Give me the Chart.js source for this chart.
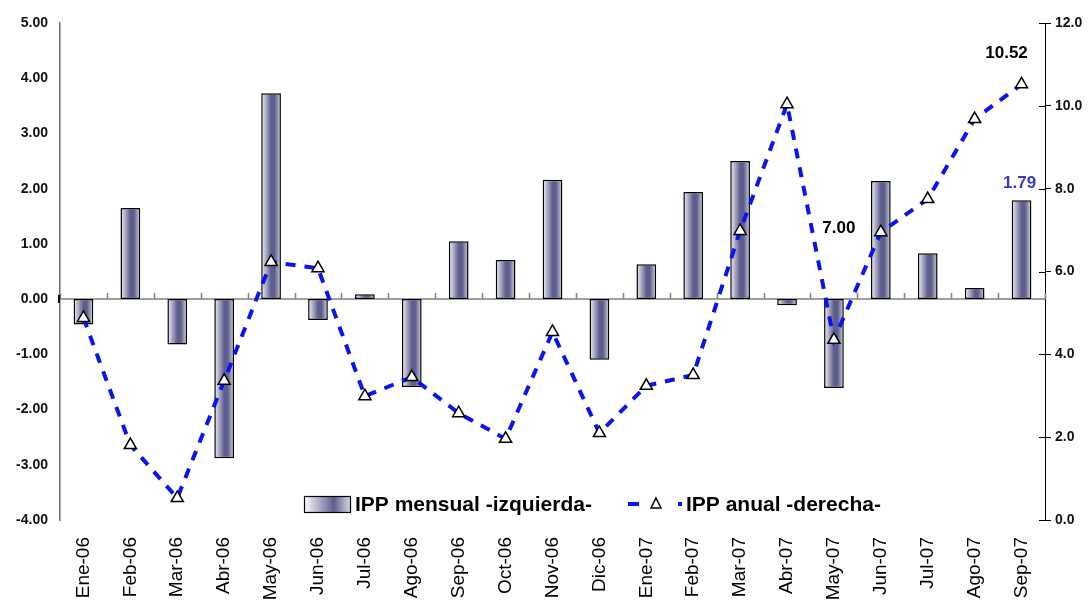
<!DOCTYPE html>
<html>
<head>
<meta charset="utf-8">
<script src="https://cdn.jsdelivr.net/npm/chart.js@4/dist/chart.umd.min.js"></script>
<style>
  html, body { margin: 0; padding: 0; background: #fff; }
  #wrap { width: 1088px; height: 601px; }
</style>
</head>
<body>
<div id="wrap"><canvas id="chart" width="1088" height="601"></canvas></div>
<script>
"use strict";

// ── data ─────────────────────────────────────────────────────────────────────
const months = [
  "Ene-06", "Feb-06", "Mar-06", "Abr-06", "May-06", "Jun-06", "Jul-06",
  "Ago-06", "Sep-06", "Oct-06", "Nov-06", "Dic-06", "Ene-07", "Feb-07",
  "Mar-07", "Abr-07", "May-07", "Jun-07", "Jul-07", "Ago-07", "Sep-07",
];
const ippMensual = [
  -0.46, 1.65, -0.82, -2.88, 3.73, -0.38, 0.09,
  -1.59, 1.05, 0.71, 2.16, -1.10, 0.63, 1.94,
  2.50, -0.11, -1.61, 2.14, 0.83, 0.20, 1.79,
];
const ippAnual = [
  4.88, 1.81, 0.53, 3.36, 6.23, 6.08, 2.99,
  3.45, 2.58, 1.96, 4.54, 2.10, 3.24, 3.50,
  6.98, 10.04, 4.35, 6.95, 7.75, 9.68, 10.52,
];
const leftRange  = { min: -4, max: 5, step: 1 };
const rightRange = { min: 0, max: 12, step: 2 };

const seriesNames = ["IPP mensual -izquierda-", "IPP anual -derecha-"];

// value labels: [series, index, text, color, dx, dy]
const valueLabels = [
  ["anual",   20, "10.52", "#000000", -15, -31],
  ["mensual", 20, "1.79",  "#3a3ac8",  -2, -17],
  ["anual",   17, "7.00",  "#000000", -42,  -4],
];

// ── styling helpers ──────────────────────────────────────────────────────────
const BAR_FRAC = 0.42;
const FONT_SANS = "'Liberation Sans', Arial, sans-serif";
const LINE_BLUE = "#0a14f0";

function barFill(ctx) {
  const chart = ctx.chart;
  const x = chart.scales && chart.scales.x;
  if (!x || ctx.type !== "data") return "#6a6a96";
  const cx = x.getPixelForValue(ctx.dataIndex);
  const w = (x.getPixelForValue(1) - x.getPixelForValue(0)) * BAR_FRAC / 2;
  if (!isFinite(cx) || !isFinite(w) || w <= 0) return "#6a6a96";
  const g = chart.ctx.createLinearGradient(cx - w, 0, cx + w, 0);
  g.addColorStop(0.0,  "#f4f4f8");
  g.addColorStop(0.5,  "#5e5e8e");
  g.addColorStop(0.68, "#5e5e8e");
  g.addColorStop(1.0,  "#d4d4de");
  return g;
}

// ── plugin: zero line, inner ticks, labels, legend ───────────────────────────
const extras = {
  id: "extras",
  beforeDatasetsDraw(chart) {
    const { ctx, chartArea: a, scales } = chart;
    const y0 = scales.y.getPixelForValue(0);
    const x = scales.x;
    const step = x.getPixelForValue(1) - x.getPixelForValue(0);
    ctx.save();
    ctx.strokeStyle = "#808080";
    ctx.lineWidth = 1.5;
    ctx.beginPath();
    ctx.moveTo(a.left, y0);
    ctx.lineTo(a.right, y0);
    for (let i = 0; i <= months.length; i++) {
      const px = Math.round(x.getPixelForValue(i) - step / 2) + 0.5;
      ctx.moveTo(px, y0);
      ctx.lineTo(px, y0 - 6);
    }
    ctx.stroke();
    // left axis zero mark
    ctx.strokeStyle = "#000";
    ctx.lineWidth = 2;
    ctx.beginPath();
    ctx.moveTo(a.left - 1, y0 - 4);
    ctx.lineTo(a.left - 1, y0 + 4);
    ctx.stroke();
    // inner half of right axis ticks
    ctx.lineWidth = 1;
    ctx.beginPath();
    for (let v = rightRange.min; v <= rightRange.max; v += rightRange.step) {
      const py = Math.round(scales.y1.getPixelForValue(v)) + 0.5;
      ctx.moveTo(a.right - 6, py);
      ctx.lineTo(a.right, py);
    }
    ctx.stroke();
    ctx.restore();
  },
  afterDatasetsDraw(chart) {
    const { ctx, chartArea: a, scales } = chart;
    ctx.save();
    ctx.font = "bold 17px " + FONT_SANS;
    ctx.textAlign = "center";
    ctx.textBaseline = "middle";
    valueLabels.forEach(([s, i, text, color, dx, dy]) => {
      const px = scales.x.getPixelForValue(i);
      const py = s === "anual"
        ? scales.y1.getPixelForValue(ippAnual[i])
        : scales.y.getPixelForValue(ippMensual[i]);
      ctx.fillStyle = color;
      ctx.fillText(text, px + dx, py + dy);
    });

    // legend
    const ly = a.bottom - 16;
    const lx = a.left + 244;
    const g = ctx.createLinearGradient(lx, 0, lx + 46, 0);
    g.addColorStop(0, "#ffffff");
    g.addColorStop(0.65, "#5e5e8e");
    g.addColorStop(1, "#d4d4de");
    ctx.fillStyle = g;
    ctx.fillRect(lx, ly - 8, 46, 16);
    ctx.strokeStyle = "#000";
    ctx.lineWidth = 1.2;
    ctx.strokeRect(lx + 0.5, ly - 7.5, 46, 16);

    ctx.font = "bold 21px " + FONT_SANS;
    ctx.textAlign = "left";
    ctx.fillStyle = "#000";
    ctx.fillText(seriesNames[0], lx + 51, ly + 1);

    const l2 = lx + 324;
    ctx.strokeStyle = LINE_BLUE;
    ctx.lineWidth = 4;
    ctx.beginPath();
    ctx.moveTo(l2, ly); ctx.lineTo(l2 + 11, ly);
    ctx.moveTo(l2 + 50, ly); ctx.lineTo(l2 + 54, ly);
    ctx.stroke();
    ctx.fillStyle = "#fff";
    ctx.strokeStyle = "#000";
    ctx.lineWidth = 1.5;
    ctx.beginPath();
    ctx.moveTo(l2 + 28, ly - 6);
    ctx.lineTo(l2 + 33, ly + 4);
    ctx.lineTo(l2 + 23, ly + 4);
    ctx.closePath();
    ctx.fill(); ctx.stroke();
    ctx.fillStyle = "#000";
    ctx.fillText(seriesNames[1], l2 + 58, ly + 1);
    ctx.restore();
  },
};

// ── chart ────────────────────────────────────────────────────────────────────
new Chart(document.getElementById("chart"), {
  type: "bar",
  data: {
    labels: months,
    datasets: [
      {
        type: "line",
        label: seriesNames[1],
        data: ippAnual,
        yAxisID: "y1",
        order: 0,
        borderColor: LINE_BLUE,
        borderWidth: 4,
        borderDash: [10, 9],
        tension: 0,
        fill: false,
        pointStyle: "triangle",
        pointRadius: 7,
        pointBackgroundColor: "#ffffff",
        pointBorderColor: "#000000",
        pointBorderWidth: 1.5,
      },
      {
        type: "bar",
        label: seriesNames[0],
        data: ippMensual,
        yAxisID: "y",
        order: 1,
        backgroundColor: barFill,
        borderColor: "#000000",
        borderWidth: 1.5,
        borderSkipped: false,
        categoryPercentage: 1,
        barPercentage: BAR_FRAC,
      },
    ],
  },
  options: {
    responsive: false,
    animation: false,
    events: [],
    layout: { padding: { top: 23, left: 0, right: 0, bottom: 0 } },
    plugins: { legend: { display: false }, tooltip: { enabled: false } },
    scales: {
      x: {
        grid: { display: false, drawTicks: false },
        border: { display: false },
        ticks: {
          minRotation: 90, maxRotation: 90, padding: 17,
          color: "#000",
          font: { family: FONT_SANS, size: 19 },
        },
        afterFit(scale) { scale.height = 81; },
      },
      y: {
        position: "left",
        min: leftRange.min, max: leftRange.max,
        grid: { display: false, drawOnChartArea: false, drawTicks: true, tickLength: 6, color: "#555" },
        border: { display: true, color: "#6e6e6e", width: 1.5 },
        ticks: {
          stepSize: leftRange.step, padding: 6, color: "#111",
          font: { family: FONT_SANS, size: 14, weight: "bold" },
          callback: v => v.toFixed(2),
        },
        afterFit(scale) { scale.width = 60; },
      },
      y1: {
        position: "right",
        min: rightRange.min, max: rightRange.max,
        grid: { display: true, drawOnChartArea: false, drawTicks: true, tickLength: 6, color: "#000" },
        border: { display: true, color: "#000", width: 1 },
        ticks: {
          stepSize: rightRange.step, padding: 4, color: "#111",
          font: { family: FONT_SANS, size: 14, weight: "bold" },
          callback: v => v.toFixed(1),
        },
        afterFit(scale) { scale.width = 43; },
      },
    },
  },
  plugins: [extras],
});
</script>
</body>
</html>
